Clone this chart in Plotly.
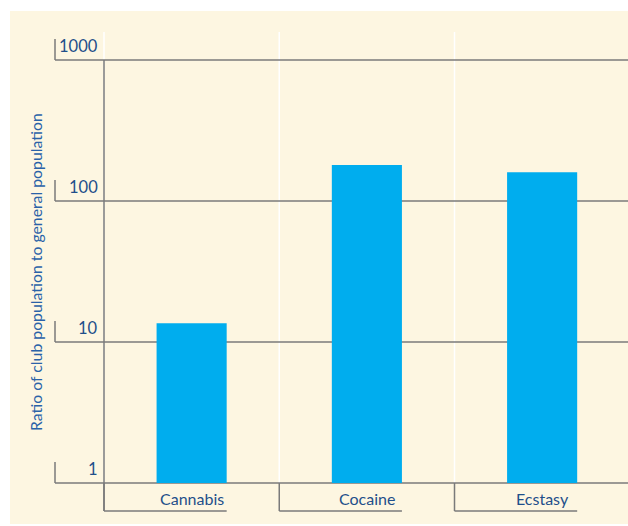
import math
import plotly.graph_objects as go

# ---- data ----
categories = ["Cannabis", "Cocaine", "Ecstasy"]
ratios = [13.6, 180, 160]
tick_values = [1, 10, 100, 1000]
tick_labels = ["1", "10", "100", "1000"]
y_title = "Ratio of club population to general population"

# ---- layout constants ----
W, H = 628, 526
ML, MR, MT, MB = 104, 0, 60, 43
PW = W - ML - MR
PH = H - MT - MB
XR = [-0.5, 2.49]
YR = [0, 3]
BAR_W = 0.4

CREAM = "#FDF6E1"
BLUE = "#00ADEE"
GRAY = "#7A7A7A"
TXT = "#1F4F8A"
TITLE = "#2A62A8"
FONT = "Lato"


def px_x(px):
    return (px - ML) / PW


def px_y(py):
    return (H - MB - py) / PH


def cx(c):
    return (c - XR[0]) / (XR[1] - XR[0])


def vy(v):
    return (math.log10(v) - YR[0]) / (YR[1] - YR[0])


fig = go.Figure()
fig.add_trace(go.Bar(
    x=categories, y=ratios, width=BAR_W,
    marker=dict(color=BLUE, line=dict(width=0)),
    hovertemplate="%{x}: %{y}<extra></extra>",
))

shapes = []
# cream panel
shapes.append(dict(type="rect", xref="paper", yref="paper",
                   x0=px_x(10), x1=px_x(W + 2), y0=px_y(524), y1=px_y(11),
                   fillcolor=CREAM, line=dict(width=0), layer="below"))
# white category separators
for i in range(len(categories)):
    shapes.append(dict(type="line", xref="paper", yref="paper",
                       x0=cx(i - 0.5), x1=cx(i - 0.5), y0=0, y1=px_y(32),
                       line=dict(color="white", width=1.5), layer="below"))
# gray horizontal gridlines + little left ticks
for v in tick_values:
    shapes.append(dict(type="line", xref="paper", yref="paper",
                       x0=px_x(55), x1=px_x(W + 2), y0=vy(v), y1=vy(v),
                       line=dict(color=GRAY, width=1.5), layer="below"))
    shapes.append(dict(type="line", xref="paper", yref="paper",
                       x0=px_x(55), x1=px_x(55), y0=vy(v), y1=vy(v) + 21 / PH,
                       line=dict(color=GRAY, width=1.5), layer="below"))
# vertical axis line
shapes.append(dict(type="line", xref="paper", yref="paper",
                   x0=0, x1=0, y0=px_y(511), y1=1,
                   line=dict(color=GRAY, width=1.5), layer="below"))
# category brackets
for i in range(len(categories)):
    shapes.append(dict(type="line", xref="paper", yref="paper",
                       x0=cx(i - 0.5), x1=cx(i - 0.5), y0=0, y1=px_y(511),
                       line=dict(color=GRAY, width=1.5), layer="below"))
    shapes.append(dict(type="line", xref="paper", yref="paper",
                       x0=cx(i - 0.5), x1=cx(i + BAR_W / 2),
                       y0=px_y(511), y1=px_y(511),
                       line=dict(color=GRAY, width=1.5), layer="below"))

annotations = []
for v, lab in zip(tick_values, tick_labels):
    annotations.append(dict(xref="paper", yref="paper", x=px_x(100), y=vy(v),
                            xanchor="right", yanchor="bottom", yshift=2,
                            text=lab, showarrow=False,
                            font=dict(family=FONT, size=16.5, color=TXT)))
for i, c in enumerate(categories):
    annotations.append(dict(xref="x", yref="paper", x=c, y=px_y(498),
                            xanchor="center", yanchor="middle",
                            text=c, showarrow=False,
                            font=dict(family=FONT, size=16, color=TXT)))
annotations.append(dict(xref="paper", yref="paper", x=px_x(35), y=px_y(272),
                        xanchor="center", yanchor="middle", textangle=-90,
                        text=y_title, showarrow=False,
                        font=dict(family=FONT, size=15.8, color=TITLE)))

fig.update_layout(
    width=W, height=H,
    margin=dict(l=ML, r=MR, t=MT, b=MB, pad=0),
    paper_bgcolor="white",
    plot_bgcolor="rgba(0,0,0,0)",
    showlegend=False,
    bargap=0.6,
    xaxis=dict(type="category", range=XR, showgrid=False, showline=False,
               zeroline=False, showticklabels=False, ticks="", fixedrange=True),
    yaxis=dict(type="log", range=YR, showgrid=False, showline=False,
               zeroline=False, showticklabels=False, ticks="", fixedrange=True),
    shapes=shapes,
    annotations=annotations,
)

fig.write_html("out.html",
               config={"displayModeBar": False},
               post_script="document.body.style.margin='0px';"
                           "document.body.style.overflow='hidden';")
